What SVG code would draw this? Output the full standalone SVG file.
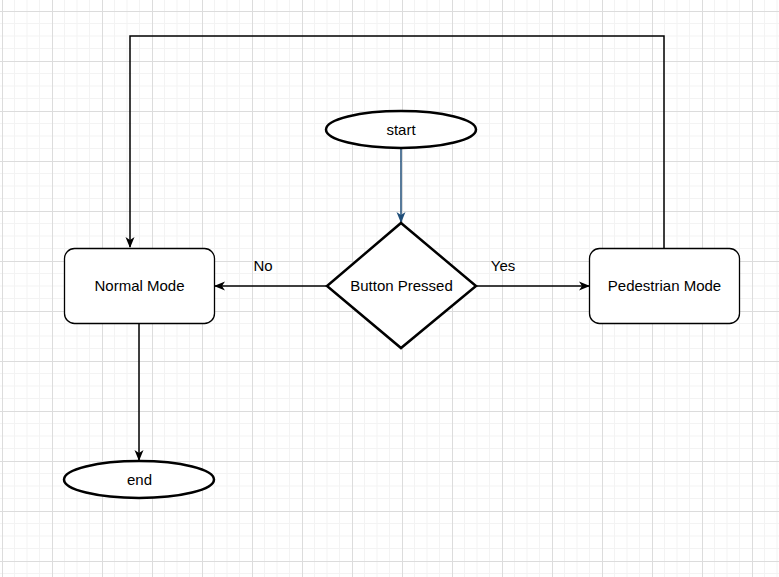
<svg xmlns="http://www.w3.org/2000/svg" width="779" height="577" viewBox="0 0 779 577">
  <style>
    .node { fill: #ffffff; stroke: #000000; }
    .term { stroke-width: 2.5; }
    .box { stroke-width: 1.3; }
    .dec { stroke-width: 2.5; }
    .lbl { font-family: "Liberation Sans", Arial, sans-serif; font-size: 15px; fill: #000000; text-anchor: middle; dominant-baseline: central; }
    .edge { fill: none; stroke: #000000; stroke-width: 1.5; }
    .edge-blue { fill: none; stroke: #1f4e79; stroke-width: 1.5; }
  </style>
  <defs>
    <pattern id="grid" patternUnits="userSpaceOnUse" x="2" y="11" width="50" height="50">
      <path d="M12.5 0V50M25 0V50M37.5 0V50M0 12.5H50M0 25H50M0 37.5H50" stroke="#f3f3f3" stroke-width="1" fill="none"/>
      <path d="M0.5 0V50M0 0.5H50" stroke="#dcdcdc" stroke-width="1" fill="none"/>
    </pattern>
    <marker id="arrow" viewBox="0 0 11 10" refX="10" refY="5" markerWidth="11" markerHeight="10" markerUnits="userSpaceOnUse" orient="auto">
      <path d="M0 0.5L11 5L0 9.5L3 5Z" fill="#000000"/>
    </marker>
    <marker id="arrow-blue" viewBox="0 0 11 10" refX="10" refY="5" markerWidth="11" markerHeight="10" markerUnits="userSpaceOnUse" orient="auto">
      <path d="M0 0.5L11 5L0 9.5L3 5Z" fill="#1f4e79"/>
    </marker>
  </defs>

  <rect width="779" height="577" fill="#ffffff"/>
  <rect width="779" height="577" fill="url(#grid)"/>

  <g id="connectors">
    <path class="edge-blue" d="M401 148V222" marker-end="url(#arrow-blue)"/>
    <path class="edge" d="M327 286H215" marker-end="url(#arrow)"/>
    <path class="edge" d="M476 286H589" marker-end="url(#arrow)"/>
    <path class="edge" d="M664 248V36H130V247" marker-end="url(#arrow)"/>
    <path class="edge" d="M139 323V460" marker-end="url(#arrow)"/>
    <text class="lbl" x="263" y="265">No</text>
    <text class="lbl" x="503" y="265">Yes</text>
  </g>

  <g id="start">
    <ellipse class="node term" cx="401" cy="129.5" rx="75" ry="18.5"/>
    <text class="lbl" x="401" y="129">start</text>
  </g>

  <g id="button-pressed">
    <polygon class="node dec" points="401,223 476,286 401,348 327,286"/>
    <text class="lbl" x="401.5" y="285">Button Pressed</text>
  </g>

  <g id="normal-mode">
    <rect class="node box" x="64.5" y="248.5" width="150" height="75" rx="10"/>
    <text class="lbl" x="139.5" y="285">Normal Mode</text>
  </g>

  <g id="pedestrian-mode">
    <rect class="node box" x="589.5" y="248.5" width="150" height="75" rx="10"/>
    <text class="lbl" x="664.5" y="285">Pedestrian Mode</text>
  </g>

  <g id="end">
    <ellipse class="node term" cx="139" cy="479.5" rx="75" ry="18.5"/>
    <text class="lbl" x="139.5" y="479">end</text>
  </g>
</svg>
